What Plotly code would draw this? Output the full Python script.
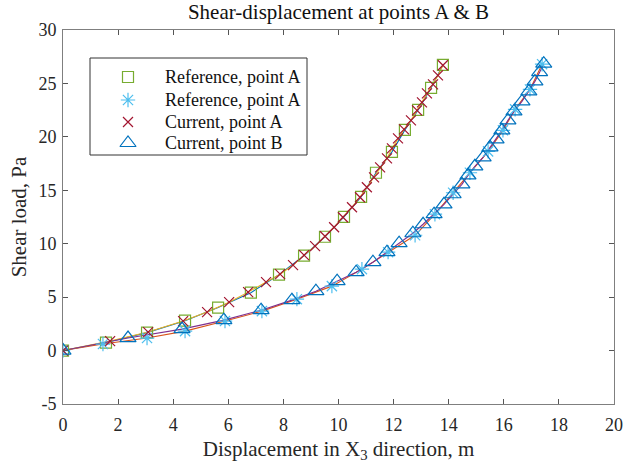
import plotly.graph_objects as go

# Reference, point A (green squares)
ref_a_x = [0, 1.56, 3.05, 4.43, 5.63, 6.82, 7.84, 8.75, 9.51, 10.20, 10.82, 11.36, 11.94, 12.41, 12.89, 13.36, 13.79]
ref_a_y = [0, 0.75, 1.68, 2.80, 4.02, 5.42, 7.10, 8.88, 10.65, 12.52, 14.39, 16.64, 18.60, 20.65, 22.52, 24.58, 26.73]

# Reference, point "A" (really B) (light-blue asterisks)
ref_b_x = [0, 1.45, 3.05, 4.43, 5.88, 7.22, 8.49, 9.76, 10.85, 11.80, 12.78, 13.50, 14.16, 14.77, 15.43, 15.97, 16.41, 16.95, 17.39]
ref_b_y = [0, 0.61, 1.17, 1.82, 2.76, 3.69, 4.81, 6.03, 7.62, 9.21, 10.79, 12.76, 14.77, 16.64, 18.64, 20.61, 22.57, 24.44, 26.80]

# Current, point A (dark red x)
cur_a_x = [0, 1.71, 3.09, 4.36, 5.23, 6.03, 6.72, 7.37, 7.88, 8.35, 8.75, 9.15, 9.51, 9.84, 10.16, 10.49,
           10.78, 11.03, 11.29, 11.51, 11.76, 11.94, 12.16, 12.38, 12.63, 12.85, 13.03, 13.21, 13.43, 13.61, 13.79]
cur_a_y = [0, 0.89, 1.73, 2.76, 3.60, 4.53, 5.47, 6.40, 7.15, 7.99, 8.93, 9.77, 10.70, 11.54, 12.48, 13.41,
           14.35, 15.28, 16.21, 17.15, 17.99, 18.92, 19.86, 20.70, 21.54, 22.48, 23.22, 24.07, 24.91, 25.75, 26.70]

# Current, point B (blue triangles)
cur_b_x = [0, 2.36, 4.32, 5.84, 7.19, 8.31, 9.18, 9.95, 10.64, 11.25, 11.76, 12.20, 12.70, 13.07, 13.47, 13.83,
           14.16, 14.48, 14.70, 14.95, 15.25, 15.50, 15.72, 15.93, 16.15, 16.37, 16.66, 16.91, 17.13, 17.30, 17.45]
cur_b_y = [0, 1.17, 2.01, 2.85, 3.78, 4.72, 5.56, 6.50, 7.34, 8.27, 9.21, 10.05, 10.98, 11.82, 12.76, 13.69,
           14.63, 15.56, 16.40, 17.24, 18.08, 19.02, 19.77, 20.61, 21.54, 22.38, 23.32, 24.25, 25.19, 26.05, 26.85]

series_names = ["Reference, point A", "Reference, point A", "Current, point A", "Current, point B"]

x_ticks = [0, 2, 4, 6, 8, 10, 12, 14, 16, 18, 20]
y_ticks = [-5, 0, 5, 10, 15, 20, 25, 30]

BLUE = "#0072BD"
ORANGE = "#D95319"
YELLOW = "#EDB120"
PURPLE = "#7E2F8E"
GREEN = "#77AC30"
LBLUE = "#4DBEEE"
DRED = "#A2142F"

FONT = "Liberation Serif"

markers = [
    dict(symbol="square-open", size=11, color=GREEN, line=dict(width=1.2, color=GREEN)),
    dict(symbol="asterisk-open", size=12, color=LBLUE, line=dict(width=1.2, color=LBLUE)),
    dict(symbol="x-thin-open", size=10, color=DRED, line=dict(width=1.2, color=DRED)),
    dict(symbol="triangle-up-open", size=14, color=BLUE, line=dict(width=1.2, color=BLUE)),
]

fig = go.Figure()

# connecting lines
fig.add_trace(go.Scatter(x=ref_a_x, y=ref_a_y, mode="lines", line=dict(color=BLUE, width=1.1), showlegend=False))
fig.add_trace(go.Scatter(x=ref_b_x, y=ref_b_y, mode="lines", line=dict(color=ORANGE, width=1.1), showlegend=False))
fig.add_trace(go.Scatter(x=cur_a_x, y=cur_a_y, mode="lines", line=dict(color=YELLOW, width=1.1), showlegend=False))
fig.add_trace(go.Scatter(x=cur_b_x, y=cur_b_y, mode="lines", line=dict(color=PURPLE, width=1.1), showlegend=False))

# markers
data = [(ref_a_x, ref_a_y), (ref_b_x, ref_b_y), (cur_a_x, cur_a_y), (cur_b_x, cur_b_y)]
for (xs, ys), nm, mk in zip(data, series_names, markers):
    fig.add_trace(go.Scatter(x=xs, y=ys, mode="markers", name=nm, marker=mk, showlegend=False))

# legend box drawn in an overlay axis spanning the plot area (0..1)
L, R, T, B = 63, 614, 30, 404
def px(xp):
    return (xp - L) / (R - L)
def py(yp):
    return (B - yp) / (B - T)

fig.add_shape(type="rect", xref="x2", yref="y2", x0=px(90), x1=px(307), y0=py(155), y1=py(58),
              line=dict(color="#333333", width=1), fillcolor="white", layer="below")
rows = [77, 100, 122, 143]
for nm, mk, r in zip(series_names, markers, rows):
    fig.add_trace(go.Scatter(x=[px(128)], y=[py(r)], xaxis="x2", yaxis="y2", mode="markers",
                             marker=mk, showlegend=False, hoverinfo="skip"))
    fig.add_annotation(x=px(163), y=py(r), xref="x2", yref="y2", text=nm, showarrow=False,
                       xanchor="left", yanchor="middle",
                       font=dict(family=FONT, size=18, color="#111111"))

axis_common = dict(
    showgrid=False, zeroline=False, showline=True, linecolor="#7f7f7f", linewidth=1,
    mirror="allticks", ticks="inside", ticklen=5, tickcolor="#555555", automargin=False,
    tickfont=dict(family=FONT, size=18, color="#262626"),
)

fig.update_layout(
    width=626, height=470,
    margin=dict(l=L, r=626 - R, t=T, b=470 - B),
    paper_bgcolor="white", plot_bgcolor="white",
    title=dict(text="Shear-displacement at points A & B", x=0.5, xref="paper", xanchor="center",
               y=0.976, yanchor="middle", font=dict(family=FONT, size=21, color="#111111")),
    xaxis=dict(range=[0, 20], tickvals=x_ticks, ticktext=[str(v) for v in x_ticks],
               ticklabelstandoff=4,
               title=dict(text="Displacement in X<sub>3</sub> direction, m", standoff=7,
                          font=dict(family=FONT, size=21, color="#262626")), **axis_common),
    yaxis=dict(range=[-5, 30], tickvals=y_ticks, ticktext=[str(v) for v in y_ticks],
               ticklabelstandoff=2,
               title=dict(text="Shear load, Pa", standoff=6,
                          font=dict(family=FONT, size=21, color="#262626")), **axis_common),
    xaxis2=dict(overlaying="x", range=[0, 1], visible=False, fixedrange=True),
    yaxis2=dict(overlaying="y", range=[0, 1], visible=False, fixedrange=True),
    showlegend=False,
)

fig.write_html("out.html")
